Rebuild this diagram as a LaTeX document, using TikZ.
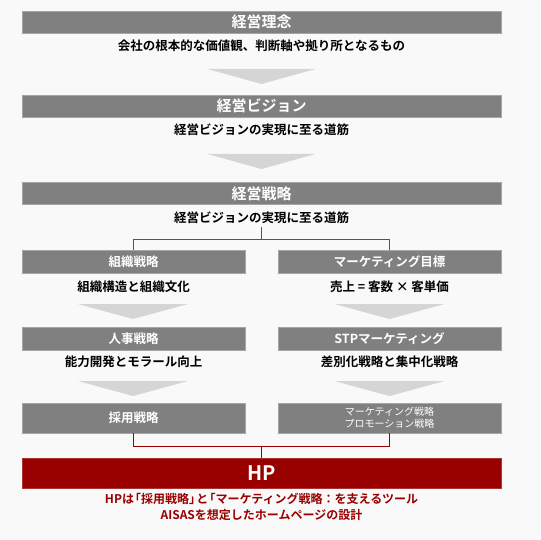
\documentclass[tikz,border=0pt]{standalone}
\usepackage{fontspec}
\setmainfont{Noto Sans CJK JP}[BoldFont={Noto Sans CJK JP Bold}]
\usetikzlibrary{calc}
\definecolor{bgGray}{HTML}{F9F9F9}
\definecolor{barGray}{HTML}{808080}
\definecolor{barEdge}{HTML}{A6A6A6}
\definecolor{arrowGray}{HTML}{D5D5D5}
\definecolor{lineGray}{HTML}{555555}
\definecolor{hpRed}{HTML}{990000}
\newcommand{\tightk}{\kern-.4em}
\begin{document}
\begin{tikzpicture}[
  x=1pt, y=-1pt,
  mainbar/.style = {fill=barGray, draw=barEdge, line width=0.7pt, inner sep=0pt,
    minimum width=479pt, minimum height=22pt, text=white,
    font=\bfseries\fontsize{15}{18}\selectfont},
  subbar/.style = {fill=barGray, draw=barEdge, line width=0.7pt, inner sep=0pt,
    minimum width=223pt, minimum height=23pt, text=white,
    font=\bfseries\fontsize{12.5}{15}\selectfont},
  desc/.style = {inner sep=1pt, font=\bfseries\fontsize{12.5}{15}\selectfont},
  flowarrow/.style = {fill=arrowGray},
  branch/.style = {draw=lineGray, line width=0.7pt},
  redbranch/.style = {draw=hpRed, line width=1pt}
]
  % 背景
  \fill[bgGray] (0,0) rectangle (540,540);
  % 上段
  \node[mainbar] (rinen) at (261.5,22) {経営理念};
  \node[desc] (rinenTxt) at (261.5,46) {会社の根本的な価値観、判断軸や拠り所となるもの};
  \node[mainbar] (vision) at (261.5,106) {経営ビジョン};
  \node[desc] (visionTxt) at (261.5,130) {経営ビジョンの実現に至る道筋};
  \node[mainbar] (senryaku) at (261.5,193.5) {経営戦略};
  \node[desc] (senryakuTxt) at (261.5,218) {経営ビジョンの実現に至る道筋};
  % 左列
  \node[subbar] (soshiki) at (133.5,261.5) {組織戦略};
  \node[desc] (soshikiTxt) at (133.5,287) {組織構造と組織文化};
  \node[subbar] (jinji) at (133.5,338.5) {人事戦略};
  \node[desc] (jinjiTxt) at (133.5,362) {能力開発とモラール向上};
  \node[subbar, minimum height=30pt] (saiyo) at (133.5,418) {採用戦略};
  % 右列
  \node[subbar] (mokuhyo) at (389.5,261.5) {マーケティング目標};
  \node[desc] (mokuhyoTxt) at (389.5,287) {売上 = 客数 × 客単価};
  \node[subbar] (stp) at (389.5,338.5) {STPマーケティング};
  \node[desc] (stpTxt) at (389.5,362) {差別化戦略と集中化戦略};
  \node[subbar, minimum height=30pt, align=center,
    font=\fontsize{10}{12}\selectfont] (mktg) at (389.5,418)
    {マーケティング戦略\\プロモーション戦略};
  % HP
  \node[mainbar, fill=hpRed, draw=hpRed!80!white, minimum height=30pt,
    font=\bfseries\fontsize{20}{24}\selectfont] (hp) at (261.5,473) {HP};
  \node[desc, text=hpRed, align=center, font=\bfseries\fontsize{12}{16}\selectfont]
    (hpTxt) at (261.5,507) {HPは\tightk「採用戦略」\tightk と\tightk「マーケティング戦略：を支えるツール\\AISASを想定したホームページの設計};
  % 矢印
  \foreach \cx/\ty/\w in {261.5/69/108, 261.5/154/108, 133/304/110, 389.5/304/110,
    133/381/110, 389.5/381/110} {
    \fill[flowarrow] ({\cx-\w/2},\ty) -- ({\cx+\w/2},\ty) -- (\cx,\ty+15) -- cycle;
  }
  % 分岐線
  \coordinate (split) at (261.5,239);
  \draw[branch] ($(senryakuTxt.south)+(0,2)$) -- (split);
  \draw[branch] (soshiki.north) -- (soshiki.north |- split)
    -- (mokuhyo.north |- split) -- (mokuhyo.north);
  % 合流線
  \coordinate (join) at (261.5,446);
  \draw[redbranch] (saiyo.south) -- (saiyo.south |- join)
    -- (mktg.south |- join) -- (mktg.south);
  \draw[redbranch] (join) -- (hp.north);
\end{tikzpicture}
\end{document}
